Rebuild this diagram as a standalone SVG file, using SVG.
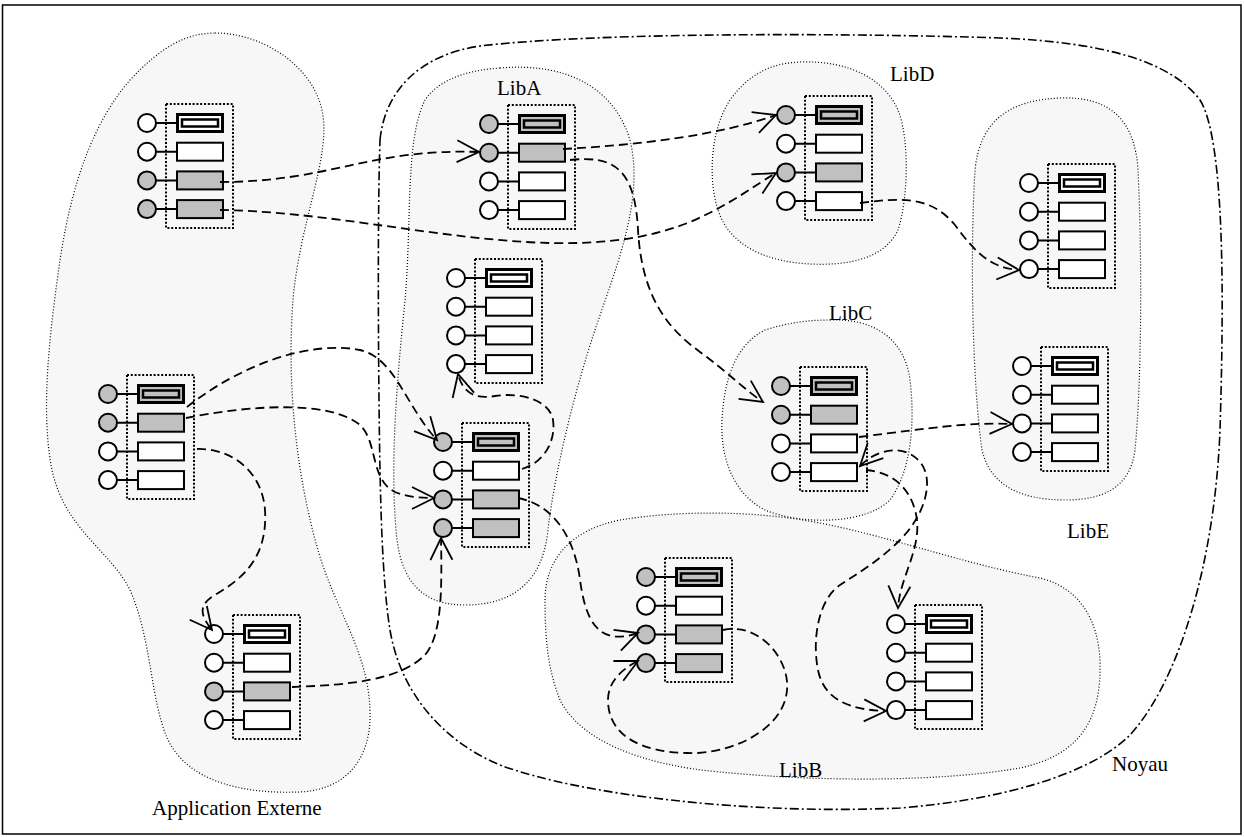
<svg xmlns="http://www.w3.org/2000/svg" width="1244" height="837" viewBox="0 0 1244 837">
<style>
.bl{fill:#f7f7f7;stroke:#000;stroke-width:1.2;stroke-dasharray:1 2}
.ny{fill:none;stroke:#000;stroke-width:1.6;stroke-dasharray:9 3 2 3}
.dr{fill:none;stroke:#000;stroke-width:2;stroke-dasharray:2 1.8}
.ci{stroke:#000;stroke-width:2}
.bx{stroke:#000;stroke-width:2}
.b0{stroke:#000;stroke-width:3}
.bi{stroke:#000;stroke-width:2.5}
.w{fill:#fff}.g{fill:#c0c0c0}
.ln{stroke:#000;stroke-width:2;fill:none}
.cn{fill:none;stroke:#000;stroke-width:1.8;stroke-dasharray:9 5;marker-end:url(#arr)}
.cs{marker-start:url(#arrs)}
.lb{font-family:"Liberation Serif","Times New Roman",serif;font-size:21px;fill:#000}
</style>
<defs>
<marker id="arr" markerUnits="userSpaceOnUse" markerWidth="30" markerHeight="30" viewBox="-25 -15 30 30" refX="0" refY="0" orient="auto" overflow="visible">
<path d="M-22,-11 L0,0 L-22,11" fill="none" stroke="#000" stroke-width="1.8" stroke-dasharray="none"/>
</marker>
<marker id="arrs" markerUnits="userSpaceOnUse" markerWidth="30" markerHeight="30" viewBox="-25 -15 30 30" refX="0" refY="0" orient="auto-start-reverse" overflow="visible">
<path d="M-22,-11 L0,0 L-22,11" fill="none" stroke="#000" stroke-width="1.8" stroke-dasharray="none"/>
</marker>
</defs>
<rect x="0" y="0" width="1244" height="837" fill="#fff"/>
<rect x="2.5" y="5" width="1238.5" height="829" fill="none" stroke="#000" stroke-width="1.5"/>

<g id="regions">
<path id="appext" class="bl" d="M215,33 C262,33 312,65 322,110 C332,155 300,220 293,300 C287,380 295,470 318,550 C335,610 368,650 370,710 C372,760 345,790 300,792 C250,794 190,785 168,740 C150,700 152,640 130,590 C110,550 65,530 52,470 C40,410 50,330 60,260 C72,180 95,120 130,80 C160,48 185,33 215,33 Z"/>
<path id="libA-r" class="bl" d="M500,68 C570,62 615,90 630,140 C645,200 615,270 595,330 C575,390 555,470 548,530 C543,580 515,605 465,605 C425,605 400,585 396,530 C390,460 397,380 405,300 C412,220 405,140 425,100 C440,78 470,70 500,68 Z"/>
<path id="libD-r" class="bl" d="M800,62 C850,60 885,80 898,110 C910,140 908,200 898,230 C885,258 850,266 810,264 C770,262 730,248 718,210 C708,180 710,130 730,100 C748,75 770,63 800,62 Z"/>
<path id="libC-r" class="bl" d="M830,320 C875,318 905,340 910,380 C915,420 912,470 890,500 C865,525 800,525 765,510 C735,495 720,460 722,420 C724,380 735,345 765,330 C790,322 810,320 830,320 Z"/>
<path id="libE-r" class="bl" d="M1060,98 C1110,96 1135,120 1138,170 C1142,250 1142,380 1135,450 C1130,490 1100,500 1065,500 C1020,500 990,485 982,450 C972,380 970,250 975,170 C980,120 1010,100 1060,98 Z"/>
<path id="libB-r" class="bl" d="M545,600 C545,560 570,530 620,520 C680,510 760,510 830,525 C900,540 970,565 1040,578 C1080,588 1098,620 1100,660 C1102,720 1080,755 1020,768 C940,782 820,782 720,772 C640,765 580,740 560,700 C548,670 545,640 545,600 Z"/>
<path id="noyau" class="ny" d="M380,140 C385,90 420,55 480,46 C600,32 850,33 1000,38 C1100,42 1170,60 1200,100 C1225,140 1224,300 1220,430 C1215,560 1180,680 1130,735 C1090,775 1000,800 900,808 C750,815 580,795 500,765 C440,740 400,690 390,630 C382,580 380,500 379,400 C378,300 378,200 380,140 Z"/>
</g>

<g id="labels">
<text class="lb" x="152" y="815">Application Externe</text>
<text class="lb" x="497" y="95">LibA</text>
<text class="lb" x="890" y="81">LibD</text>
<text class="lb" x="829" y="320">LibC</text>
<text class="lb" x="1067" y="538">LibE</text>
<text class="lb" x="779" y="777">LibB</text>
<text class="lb" x="1112" y="771">Noyau</text>
</g>

<g id="app1" transform="translate(147,123)">
<rect class="dr" x="19" y="-19" width="67" height="124"/>
<path class="ln" d="M9,0H30M9,28.7H30M9,57.4H30M9,86.1H30"/>
<circle class="ci w" cx="0" cy="0" r="9"/><circle class="ci w" cx="0" cy="28.7" r="9"/><circle class="ci g" cx="0" cy="57.4" r="9"/><circle class="ci g" cx="0" cy="86.1" r="9"/>
<rect class="b0 w" x="30.5" y="-8.5" width="45" height="17"/><rect class="bi w" x="35" y="-3.5" width="36" height="7"/>
<rect class="bx w" x="30" y="19.7" width="46" height="18"/><rect class="bx g" x="30" y="48.4" width="46" height="18"/><rect class="bx g" x="30" y="77.1" width="46" height="18"/>
</g>
<g id="app2" transform="translate(108,394)">
<rect class="dr" x="19" y="-19" width="67" height="124"/>
<path class="ln" d="M9,0H30M9,28.7H30M9,57.4H30M9,86.1H30"/>
<circle class="ci g" cx="0" cy="0" r="9"/><circle class="ci g" cx="0" cy="28.7" r="9"/><circle class="ci w" cx="0" cy="57.4" r="9"/><circle class="ci w" cx="0" cy="86.1" r="9"/>
<rect class="b0 g" x="30.5" y="-8.5" width="45" height="17"/><rect class="bi g" x="35" y="-3.5" width="36" height="7"/>
<rect class="bx g" x="30" y="19.7" width="46" height="18"/><rect class="bx w" x="30" y="48.4" width="46" height="18"/><rect class="bx w" x="30" y="77.1" width="46" height="18"/>
</g>
<g id="app3" transform="translate(214,634)">
<rect class="dr" x="19" y="-19" width="67" height="124"/>
<path class="ln" d="M9,0H30M9,28.7H30M9,57.4H30M9,86.1H30"/>
<circle class="ci w" cx="0" cy="0" r="9"/><circle class="ci w" cx="0" cy="28.7" r="9"/><circle class="ci g" cx="0" cy="57.4" r="9"/><circle class="ci w" cx="0" cy="86.1" r="9"/>
<rect class="b0 w" x="30.5" y="-8.5" width="45" height="17"/><rect class="bi w" x="35" y="-3.5" width="36" height="7"/>
<rect class="bx w" x="30" y="19.7" width="46" height="18"/><rect class="bx g" x="30" y="48.4" width="46" height="18"/><rect class="bx w" x="30" y="77.1" width="46" height="18"/>
</g>
<g id="libA1" transform="translate(489,124)">
<rect class="dr" x="19" y="-19" width="67" height="124"/>
<path class="ln" d="M9,0H30M9,28.7H30M9,57.4H30M9,86.1H30"/>
<circle class="ci g" cx="0" cy="0" r="9"/><circle class="ci g" cx="0" cy="28.7" r="9"/><circle class="ci w" cx="0" cy="57.4" r="9"/><circle class="ci w" cx="0" cy="86.1" r="9"/>
<rect class="b0 g" x="30.5" y="-8.5" width="45" height="17"/><rect class="bi g" x="35" y="-3.5" width="36" height="7"/>
<rect class="bx g" x="30" y="19.7" width="46" height="18"/><rect class="bx w" x="30" y="48.4" width="46" height="18"/><rect class="bx w" x="30" y="77.1" width="46" height="18"/>
</g>
<g id="libA2" transform="translate(456,278)">
<rect class="dr" x="19" y="-19" width="67" height="124"/>
<path class="ln" d="M9,0H30M9,28.7H30M9,57.4H30M9,86.1H30"/>
<circle class="ci w" cx="0" cy="0" r="9"/><circle class="ci w" cx="0" cy="28.7" r="9"/><circle class="ci w" cx="0" cy="57.4" r="9"/><circle class="ci w" cx="0" cy="86.1" r="9"/>
<rect class="b0 w" x="30.5" y="-8.5" width="45" height="17"/><rect class="bi w" x="35" y="-3.5" width="36" height="7"/>
<rect class="bx w" x="30" y="19.7" width="46" height="18"/><rect class="bx w" x="30" y="48.4" width="46" height="18"/><rect class="bx w" x="30" y="77.1" width="46" height="18"/>
</g>
<g id="libA3" transform="translate(443,442)">
<rect class="dr" x="19" y="-19" width="67" height="124"/>
<path class="ln" d="M9,0H30M9,28.7H30M9,57.4H30M9,86.1H30"/>
<circle class="ci g" cx="0" cy="0" r="9"/><circle class="ci w" cx="0" cy="28.7" r="9"/><circle class="ci g" cx="0" cy="57.4" r="9"/><circle class="ci g" cx="0" cy="86.1" r="9"/>
<rect class="b0 g" x="30.5" y="-8.5" width="45" height="17"/><rect class="bi g" x="35" y="-3.5" width="36" height="7"/>
<rect class="bx w" x="30" y="19.7" width="46" height="18"/><rect class="bx g" x="30" y="48.4" width="46" height="18"/><rect class="bx g" x="30" y="77.1" width="46" height="18"/>
</g>
<g id="libD" transform="translate(786,115)">
<rect class="dr" x="19" y="-19" width="67" height="124"/>
<path class="ln" d="M9,0H30M9,28.7H30M9,57.4H30M9,86.1H30"/>
<circle class="ci g" cx="0" cy="0" r="9"/><circle class="ci w" cx="0" cy="28.7" r="9"/><circle class="ci g" cx="0" cy="57.4" r="9"/><circle class="ci w" cx="0" cy="86.1" r="9"/>
<rect class="b0 g" x="30.5" y="-8.5" width="45" height="17"/><rect class="bi g" x="35" y="-3.5" width="36" height="7"/>
<rect class="bx w" x="30" y="19.7" width="46" height="18"/><rect class="bx g" x="30" y="48.4" width="46" height="18"/><rect class="bx w" x="30" y="77.1" width="46" height="18"/>
</g>
<g id="libE1" transform="translate(1029,183)">
<rect class="dr" x="19" y="-19" width="67" height="124"/>
<path class="ln" d="M9,0H30M9,28.7H30M9,57.4H30M9,86.1H30"/>
<circle class="ci w" cx="0" cy="0" r="9"/><circle class="ci w" cx="0" cy="28.7" r="9"/><circle class="ci w" cx="0" cy="57.4" r="9"/><circle class="ci w" cx="0" cy="86.1" r="9"/>
<rect class="b0 w" x="30.5" y="-8.5" width="45" height="17"/><rect class="bi w" x="35" y="-3.5" width="36" height="7"/>
<rect class="bx w" x="30" y="19.7" width="46" height="18"/><rect class="bx w" x="30" y="48.4" width="46" height="18"/><rect class="bx w" x="30" y="77.1" width="46" height="18"/>
</g>
<g id="libE2" transform="translate(1022,366)">
<rect class="dr" x="19" y="-19" width="67" height="124"/>
<path class="ln" d="M9,0H30M9,28.7H30M9,57.4H30M9,86.1H30"/>
<circle class="ci w" cx="0" cy="0" r="9"/><circle class="ci w" cx="0" cy="28.7" r="9"/><circle class="ci w" cx="0" cy="57.4" r="9"/><circle class="ci w" cx="0" cy="86.1" r="9"/>
<rect class="b0 w" x="30.5" y="-8.5" width="45" height="17"/><rect class="bi w" x="35" y="-3.5" width="36" height="7"/>
<rect class="bx w" x="30" y="19.7" width="46" height="18"/><rect class="bx w" x="30" y="48.4" width="46" height="18"/><rect class="bx w" x="30" y="77.1" width="46" height="18"/>
</g>
<g id="libC" transform="translate(781,386)">
<rect class="dr" x="19" y="-19" width="67" height="124"/>
<path class="ln" d="M9,0H30M9,28.7H30M9,57.4H30M9,86.1H30"/>
<circle class="ci g" cx="0" cy="0" r="9"/><circle class="ci g" cx="0" cy="28.7" r="9"/><circle class="ci w" cx="0" cy="57.4" r="9"/><circle class="ci w" cx="0" cy="86.1" r="9"/>
<rect class="b0 g" x="30.5" y="-8.5" width="45" height="17"/><rect class="bi g" x="35" y="-3.5" width="36" height="7"/>
<rect class="bx g" x="30" y="19.7" width="46" height="18"/><rect class="bx w" x="30" y="48.4" width="46" height="18"/><rect class="bx w" x="30" y="77.1" width="46" height="18"/>
</g>
<g id="libB1" transform="translate(646,577)">
<rect class="dr" x="19" y="-19" width="67" height="124"/>
<path class="ln" d="M9,0H30M9,28.7H30M9,57.4H30M9,86.1H30"/>
<circle class="ci g" cx="0" cy="0" r="9"/><circle class="ci w" cx="0" cy="28.7" r="9"/><circle class="ci g" cx="0" cy="57.4" r="9"/><circle class="ci g" cx="0" cy="86.1" r="9"/>
<rect class="b0 g" x="30.5" y="-8.5" width="45" height="17"/><rect class="bi g" x="35" y="-3.5" width="36" height="7"/>
<rect class="bx w" x="30" y="19.7" width="46" height="18"/><rect class="bx g" x="30" y="48.4" width="46" height="18"/><rect class="bx g" x="30" y="77.1" width="46" height="18"/>
</g>
<g id="libB2" transform="translate(896,624)">
<rect class="dr" x="19" y="-19" width="67" height="124"/>
<path class="ln" d="M9,0H30M9,28.7H30M9,57.4H30M9,86.1H30"/>
<circle class="ci w" cx="0" cy="0" r="9"/><circle class="ci w" cx="0" cy="28.7" r="9"/><circle class="ci w" cx="0" cy="57.4" r="9"/><circle class="ci w" cx="0" cy="86.1" r="9"/>
<rect class="b0 w" x="30.5" y="-8.5" width="45" height="17"/><rect class="bi w" x="35" y="-3.5" width="36" height="7"/>
<rect class="bx w" x="30" y="19.7" width="46" height="18"/><rect class="bx w" x="30" y="48.4" width="46" height="18"/><rect class="bx w" x="30" y="77.1" width="46" height="18"/>
</g>

<g id="connectors">
<path class="cn" d="M220,182 C330,182 370,148 479,152"/>
<path class="cn" d="M220,210 C380,212 560,275 690,222 C730,205 755,185 776,173"/>
<path class="cn" d="M563,149 C640,145 720,135 776,115"/>
<path class="cn" d="M570,160 C615,155 635,170 638,230 C642,300 670,330 700,352 C725,370 745,390 763,402"/>
<path class="cn" d="M860,203 C900,198 930,195 955,225 C975,252 990,268 1019,270"/>
<path class="cn" d="M859,437 C930,428 970,422 1012,424"/>
<path class="cn cs" d="M860,466 C878,448 905,444 920,462 C935,480 925,515 900,540 C880,560 860,572 840,585 C818,600 812,640 818,670 C824,700 850,710 886,711"/>
<path class="cn" d="M866,470 C890,472 908,485 915,510 C925,545 900,575 898,608"/>
<path class="cn" d="M187,407 C240,365 310,340 360,350 C395,358 405,405 437,440"/>
<path class="cn" d="M186,418 C250,405 330,400 360,425 C378,442 370,480 395,492 C410,498 425,498 434,498"/>
<path class="cn" d="M197,449 C230,448 262,470 265,510 C268,560 240,580 215,595 C198,605 200,615 212,630"/>
<path class="cn" d="M292,687 C350,685 400,680 425,655 C442,635 442,590 441,538"/>
<path class="cn" d="M522,469 C545,462 556,440 553,420 C550,400 520,392 495,396 C472,400 462,390 458,374"/>
<path class="cn" d="M518,498 C555,505 575,540 580,580 C585,615 595,648 638,633"/>
<path class="cn" d="M723,630 C760,622 790,660 787,690 C784,730 730,755 687,753 C640,752 608,735 608,700 C608,683 620,670 638,661"/>
</g>
</svg>
